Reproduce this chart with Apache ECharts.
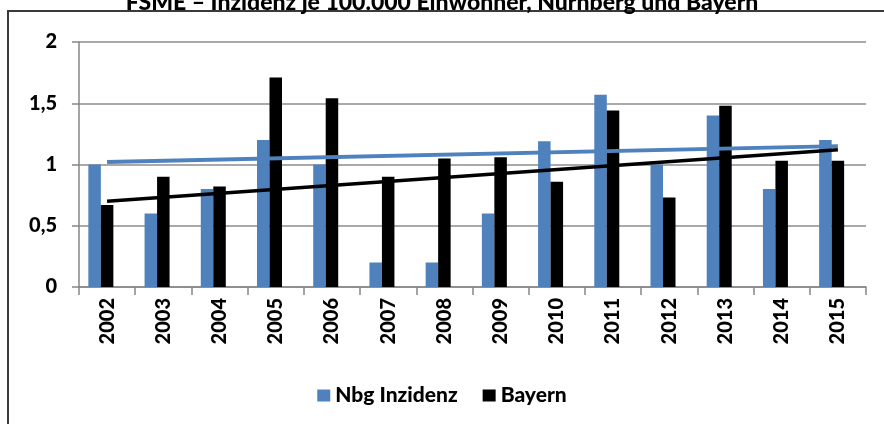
<!DOCTYPE html>
<html lang="de">
<head>
  <meta charset="UTF-8">
  <title>FSME Inzidenz</title>
  <script src="https://cdn.jsdelivr.net/npm/echarts@6/dist/echarts.min.js"></script>
  <style>
    html, body { margin: 0; padding: 0; background: #fff; overflow: hidden; }
    #frame { position: absolute; left: 7px; top: 10px; width: 900px; height: 500px;
             border-left: 2px solid #3a3a3a; border-top: 2px solid #3a3a3a; }
    #chart { position: absolute; left: 0; top: 0; width: 884px; height: 424px; }
  </style>
</head>
<body>
  <div id="frame"></div>
  <div id="chart"></div>
  <script>
    var years = ['2002', '2003', '2004', '2005', '2006', '2007', '2008',
                 '2009', '2010', '2011', '2012', '2013', '2014', '2015'];
    var nbg = [1.0, 0.6, 0.8, 1.2, 1.0, 0.2, 0.2, 0.6, 1.19, 1.57, 1.0, 1.4, 0.8, 1.2];
    var bayern = [0.67, 0.9, 0.82, 1.71, 1.54, 0.9, 1.05, 1.06, 0.86, 1.44, 0.73, 1.48, 1.03, 1.03];
    // trend line end points
    var trendYears = ['2002', '2015'];
    var trendNbg = [1.02, 1.15];
    var trendBayern = [0.70, 1.12];
    var yTicks = [0, 0.5, 1, 1.5, 2];

    var fontFam = 'Lato, "Open Sans", sans-serif';
    var oChart = echarts.init(document.getElementById('chart'));

    function pairs(xs, ys) {
      var out = [];
      for (var i = 0; i < xs.length; i++) out.push([xs[i], ys[i]]);
      return out;
    }

    var opt = {
      animation: false,
      title: {
        text: 'FSME \u2013 Inzidenz je 100.000 Einwohner, Nürnberg und Bayern',
        left: 'center',
        top: -14,
        textStyle: { fontFamily: fontFam, fontWeight: 900, fontSize: 23, color: '#000' }
      },
      legend: {
        data: ['Nbg Inzidenz', 'Bayern'],
        left: 'center',
        top: 380,
        icon: 'rect',
        itemWidth: 13,
        itemHeight: 12,
        itemGap: 25,
        textStyle: { fontFamily: fontFam, fontWeight: 900, fontSize: 21, color: '#000' }
      },
      grid: { left: 79, right: 18, top: 42, bottom: 137, containLabel: false },
      xAxis: {
        type: 'category',
        data: years,
        axisLine: { lineStyle: { color: '#868686', width: 1.5 } },
        axisTick: { show: true, length: 8, lineStyle: { color: '#868686', width: 1.5 } },
        axisLabel: {
          rotate: 90, interval: 0, margin: 11,
          fontFamily: fontFam, fontWeight: 900, fontSize: 20, color: '#000'
        }
      },
      yAxis: {
        type: 'value',
        min: yTicks[0],
        max: yTicks[yTicks.length - 1],
        interval: 0.5,
        axisLine: { show: true, lineStyle: { color: '#868686', width: 1.5 } },
        axisTick: { show: true, length: 7, lineStyle: { color: '#868686', width: 1.5 } },
        splitLine: { lineStyle: { color: '#8c8c8c', width: 1.5 } },
        axisLabel: {
          margin: 22,
          fontFamily: fontFam, fontWeight: 900, fontSize: 20, color: '#000',
          formatter: function (v) { return String(v).replace('.', ','); }
        }
      },
      series: [
        {
          name: 'Nbg Inzidenz',
          type: 'bar',
          barWidth: 12.5,
          barGap: '0%',
          itemStyle: { color: '#4F81BD' },
          data: nbg
        },
        {
          name: 'Bayern',
          type: 'bar',
          barWidth: 12.5,
          barGap: '0%',
          itemStyle: { color: '#000' },
          data: bayern
        },
        {
          // empty slot, Excel keeps room for a third series
          name: 'leer',
          type: 'bar',
          barWidth: 12.5,
          barGap: '0%',
          silent: true,
          data: []
        },
        {
          name: 'Trend Nbg',
          type: 'line',
          symbol: 'none',
          silent: true,
          z: 5,
          lineStyle: { color: '#4F81BD', width: 4 },
          data: pairs(trendYears, trendNbg)
        },
        {
          name: 'Trend Bayern',
          type: 'line',
          symbol: 'none',
          silent: true,
          z: 6,
          lineStyle: { color: '#000', width: 3.5 },
          data: pairs(trendYears, trendBayern)
        }
      ]
    };

    oChart.setOption(opt);
  </script>
</body>
</html>
